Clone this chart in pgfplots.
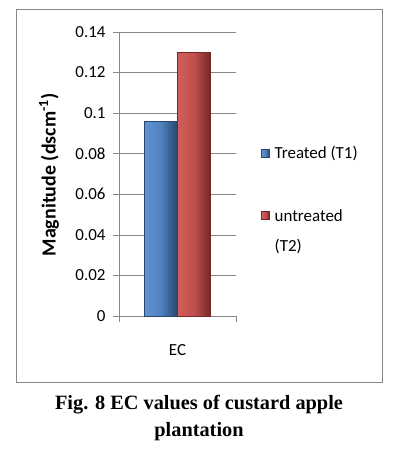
\documentclass[border=0pt]{standalone}
\usepackage{fontspec}
\setmainfont{Carlito}
\newfontfamily\capfont{Liberation Serif}
\usepackage{pgfplots}
\pgfplotsset{compat=1.18}
\definecolor{bluebar}{RGB}{79,129,189}
\definecolor{bluedark}{RGB}{40,70,110}
\definecolor{bluelight}{RGB}{96,148,210}
\definecolor{redbar}{RGB}{192,80,77}
\definecolor{reddark}{RGB}{115,40,38}
\definecolor{redlight}{RGB}{210,94,90}
\definecolor{gridgray}{RGB}{134,134,134}
\pgfplotsset{
  legA/.style={legend image code/.code={\draw[##1] (0bp,-4bp) rectangle (8bp,4bp); \path (11bp,0);}},
  legB/.style={legend image code/.code={\draw[##1] (0bp,12bp) rectangle (8bp,20bp); \path (11bp,0);}},
}
\begin{document}
\begin{tikzpicture}[x=1bp,y=1bp]
\path[use as bounding box] (0,0) rectangle (396,449);
\fill[white] (0,0) rectangle (396,449);
\draw[gridgray, line width=0.8bp] (16,67) rectangle (382,440);
\begin{axis}[
  at={(119bp,133bp)}, anchor=south west,
  scale only axis, width=117bp, height=284bp,
  xmin=-0.5, xmax=0.5, ymin=0, ymax=0.14,
  ybar=0pt, bar width=33bp,
  axis line style={gridgray},
  axis x line*=bottom, axis y line*=left,
  ytick={0,0.02,0.04,0.06,0.08,0.1,0.12,0.14},
  yticklabels={0,0.02,0.04,0.06,0.08,0.1,0.12,0.14},
  scaled y ticks=false,
  ymajorgrids, grid style={gridgray, line width=0.6bp},
  major tick style={gridgray, line width=0.6bp},
  tick align=outside, major tick length=6bp,
  xtick={-0.5,0.5}, xticklabels={,},
  extra x ticks={0}, extra x tick labels={EC},
  extra x tick style={major tick length=0pt, grid=none, xticklabel style={yshift=-25bp}},
  tick label style={font=\fontsize{17}{20}\selectfont},
  yticklabel style={xshift=-4bp},
  legend style={at={(1,1)}, anchor=north west, xshift=22bp, yshift=-110bp, draw=none, fill=none,
     font=\fontsize{17}{20}\selectfont, row sep=46bp, cells={align=left}},
  legend cell align=left,
  clip=false,
]
\addplot[draw=bluedark, line width=0.5bp, left color=bluelight, right color=bluedark, middle color=bluebar, legA] coordinates {(0,0.096)};
\addplot[draw=reddark, line width=0.5bp, left color=redlight, right color=reddark, middle color=redbar, legB] coordinates {(0,0.130)};
\legend{Treated (T1), untreated\\[10bp](T2)}
\end{axis}
\node[rotate=90, font=\fontsize{20}{24}\selectfont\bfseries] at (49,274) {Magnitude (dscm\textsuperscript{-1})};
\node[font=\capfont\fontsize{20.4}{24}\selectfont\bfseries] at (199,44) {Fig. 8 EC values of custard apple};
\node[font=\capfont\fontsize{20.4}{24}\selectfont\bfseries] at (199,17) {plantation};
\end{tikzpicture}
\end{document}
